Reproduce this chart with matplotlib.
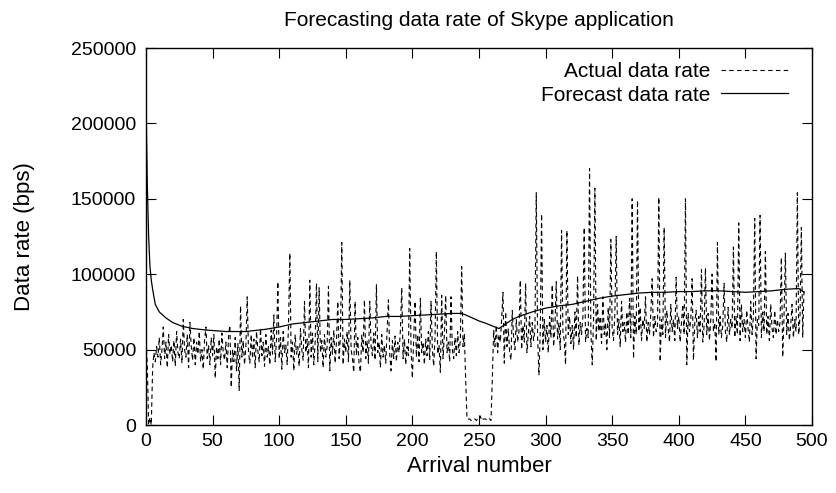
import matplotlib.pyplot as plt
import numpy as np

# Actual data rate per arrival, in kbps
actual_k = [
    55, 40, 0, 5, 0, 38, 48, 42, 52, 45,
    58, 40, 50, 65, 44, 55, 38, 60, 47, 53,
    42, 56, 39, 62, 48, 44, 57, 41, 70, 50,
    45, 60, 38, 68, 52, 43, 58, 40, 55, 47,
    62, 42, 50, 37, 56, 65, 44, 53, 40, 58,
    46, 60, 31, 52, 44, 57, 40, 61, 48, 43,
    55, 38, 59, 66, 25, 50, 42, 58, 36, 54,
    23, 79, 45, 56, 40, 52, 85, 48, 41, 60,
    44, 57, 38, 62, 49, 42, 64, 46, 55, 39,
    60, 45, 52, 40, 63, 47, 73, 42, 56, 95,
    44, 58, 37, 62, 48, 53, 40, 66, 114, 45,
    55, 36, 60, 47, 52, 39, 64, 50, 43, 82,
    48, 57, 38, 96, 45, 61, 40, 55, 94, 42,
    91, 48, 56, 38, 60, 45, 52, 92, 36, 58,
    47, 63, 41, 55, 82, 44, 59, 121, 40, 57,
    48, 62, 42, 96, 50, 44, 35, 82, 46, 58,
    40, 35, 60, 48, 83, 44, 56, 41, 82, 52,
    46, 61, 43, 93, 48, 55, 38, 60, 45, 53,
    41, 62, 83, 47, 36, 56, 44, 59, 42, 55,
    48, 63, 91, 44, 57, 40, 52, 46, 117, 50,
    31, 58, 82, 45, 60, 42, 84, 48, 55, 40,
    57, 46, 62, 43, 82, 50, 39, 58, 115, 47,
    53, 35, 86, 44, 60, 86, 48, 55, 42, 85,
    50, 44, 58, 46, 62, 48, 56, 105, 52, 60,
    30, 4, 4, 4, 3, 4, 4, 4, 3, 4,
    4, 6, 3, 4, 4, 4, 3, 4, 4, 3,
    30, 63, 52, 66, 48, 60, 55, 70, 88, 41,
    75, 52, 64, 48, 43, 76, 58, 50, 70, 55,
    62, 96, 50, 66, 55, 94, 48, 60, 72, 52,
    68, 56, 63, 154, 58, 33, 62, 140, 50, 70,
    55, 66, 48, 72, 58, 93, 52, 64, 95, 57,
    68, 50, 129, 62, 56, 40, 129, 60, 72, 54,
    66, 50, 75, 58, 99, 53, 68, 60, 72, 131,
    55, 64, 58, 170, 62, 40, 70, 157, 56, 80,
    62, 72, 54, 85, 60, 68, 50, 78, 58, 123,
    64, 56, 74, 125, 60, 70, 52, 82, 62, 68,
    55, 75, 60, 84, 58, 150, 44, 72, 60, 149,
    62, 78, 56, 70, 64, 85, 55, 68, 60, 74,
    97, 58, 72, 62, 66, 151, 42, 70, 60, 131,
    58, 76, 64, 55, 80, 62, 70, 56, 98, 64,
    72, 55, 68, 80, 60, 150, 40, 74, 62, 70,
    97, 43, 68, 76, 58, 72, 62, 103, 55, 66,
    104, 60, 74, 56, 70, 100, 62, 68, 42, 121,
    60, 72, 58, 66, 94, 62, 55, 78, 60, 70,
    64, 118, 58, 72, 60, 134, 56, 80, 62, 70,
    58, 76, 64, 55, 82, 60, 72, 137, 44, 70,
    66, 139, 58, 75, 62, 115, 60, 72, 56, 80,
    64, 58, 76, 60, 70, 62, 68, 111, 45, 72,
    114, 60, 74, 56, 66, 80, 58, 70, 62, 154,
    60, 72, 131, 58, 90,
]

# Forecast data rate (smooth curve), arrival numbers and kbps
forecast_x = [0, 1, 2, 3, 4, 5, 7, 10, 15, 20, 27, 35, 45, 60, 75, 90,
              100, 110, 120, 130, 140, 150, 160, 170, 180, 190, 200, 210,
              220, 230, 237, 240, 245, 250, 255, 262, 265, 270, 275, 280,
              290, 300, 310, 320, 330, 340, 350, 360, 370, 380, 390, 400,
              410, 420, 430, 440, 450, 460, 470, 480, 490, 494]
forecast_k = [215, 160, 125, 105, 96, 90, 80, 75, 71, 68, 65.5, 64, 63, 62, 62, 63.5,
              65, 67, 68, 69, 70, 70, 70.5, 71, 72, 72, 72.5, 73,
              73.5, 74, 74, 73, 71, 69, 67.5, 65, 64, 67, 70, 72,
              75, 77.5, 79, 80, 82, 84, 85.5, 86.5, 87.5, 88, 88, 88.5,
              88.5, 89, 89, 88.5, 88, 88.5, 89, 90, 90.5, 88]

actual = np.array(actual_k) * 1000
forecast = np.array(forecast_k) * 1000

plt.rcParams['font.family'] = ['Liberation Sans', 'DejaVu Sans']

fig = plt.figure(figsize=(8.36, 4.93), dpi=100)
ax = fig.add_axes([0.1746, 0.1379, 0.7967, 0.7647])

ax.plot(np.arange(len(actual)), actual, color='black', lw=0.8,
        linestyle=(0, (4, 3)), label='Actual data rate')
ax.plot(forecast_x, forecast, color='black', lw=0.9, label='Forecast data rate')

ax.set_xlim(0, 500)
ax.set_ylim(0, 250000)
ax.set_xticks(range(0, 501, 50))
ax.set_yticks(range(0, 250001, 50000))
ax.tick_params(direction='in', length=7, width=0.8, top=True, right=True,
               labelsize=14)
ax.tick_params(axis='y', pad=7)
ax.tick_params(axis='x', pad=6)
for s in ax.spines.values():
    s.set_linewidth(1)

ax.set_xlabel('Arrival number', fontsize=16, labelpad=4)
ax.set_ylabel('Data rate (bps)', fontsize=16, labelpad=26)
ax.set_title('Forecasting data rate of Skype application', fontsize=15, pad=16)

ax.legend(loc='upper right', bbox_to_anchor=(0.976, 0.984), frameon=False,
          markerfirst=False, fontsize=15, handlelength=3.2, handletextpad=0.5,
          labelspacing=0.2, borderaxespad=0)

fig.savefig('out.png', dpi=100)
